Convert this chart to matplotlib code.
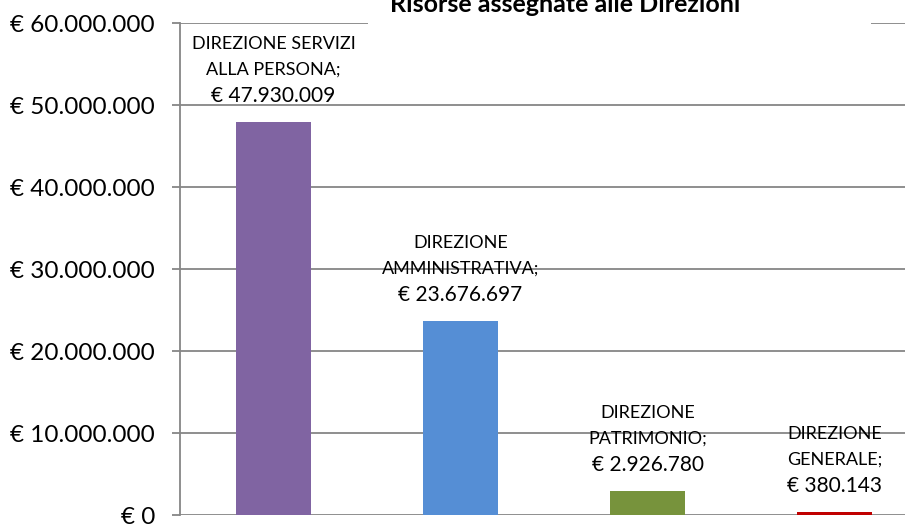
import matplotlib
matplotlib.use('Agg')
import matplotlib.pyplot as plt
from matplotlib.patches import Rectangle

plt.rcParams['font.family'] = ['Lato', 'DejaVu Sans']

# data
direzioni = [["DIREZIONE SERVIZI", "ALLA PERSONA;"],
             ["DIREZIONE", "AMMINISTRATIVA;"],
             ["DIREZIONE", "PATRIMONIO;"],
             ["DIREZIONE", "GENERALE;"]]
risorse = [47930009, 23676697, 2926780, 380143]
colori = ["#8064A2", "#558ED5", "#77933C", "#C00000"]
yticks = [0, 10000000, 20000000, 30000000, 40000000, 50000000, 60000000]


def euro(v):
    if v == 0:
        return "€ 0"
    return "€ " + "{:,}".format(int(v)).replace(",", ".")


W, H = 905, 524
fig = plt.figure(figsize=(W / 100, H / 100), dpi=100)
ax = fig.add_axes([180 / W, 1 - 515 / H, 748 / W, 492 / H])

x = list(range(len(risorse)))
ax.bar(x, risorse, width=0.4, color=colori, zorder=3)
ax.set_xlim(-0.5, 3.5)
ax.set_ylim(0, 60000000)
ax.set_yticks(yticks)
ax.set_yticklabels([euro(v) for v in yticks], fontsize=17.5)
ax.set_xticks([])
ax.grid(axis='y', color='#868686', linewidth=1.3, zorder=1)
ax.tick_params(axis='y', length=6, width=1.3, color='#868686', pad=12)
for s in ['top', 'right', 'bottom']:
    ax.spines[s].set_visible(False)
ax.spines['left'].set_color('#868686')
ax.spines['left'].set_linewidth(1.3)

# data labels
for i, v in enumerate(risorse):
    ax.annotate(euro(v), (i, v), xytext=(0, 26), textcoords='offset pixels',
                ha='center', va='center', fontsize=15, zorder=5)
    ax.annotate(direzioni[i][1], (i, v), xytext=(0, 52), textcoords='offset pixels',
                ha='center', va='center', fontsize=13, zorder=5)
    ax.annotate(direzioni[i][0], (i, v), xytext=(0, 78), textcoords='offset pixels',
                ha='center', va='center', fontsize=13, zorder=5)

# title box
fig.patches.append(Rectangle((368 / W, 1 - 30 / H), 503 / W, 30 / H,
                             transform=fig.transFigure, facecolor='white',
                             edgecolor='none', zorder=10))
fig.text(565 / W, 1 - 12 / H, "Risorse assegnate alle Direzioni", ha='center',
         va='baseline', fontsize=18, fontweight='bold', zorder=11)

fig.savefig('out.png', dpi=100)
